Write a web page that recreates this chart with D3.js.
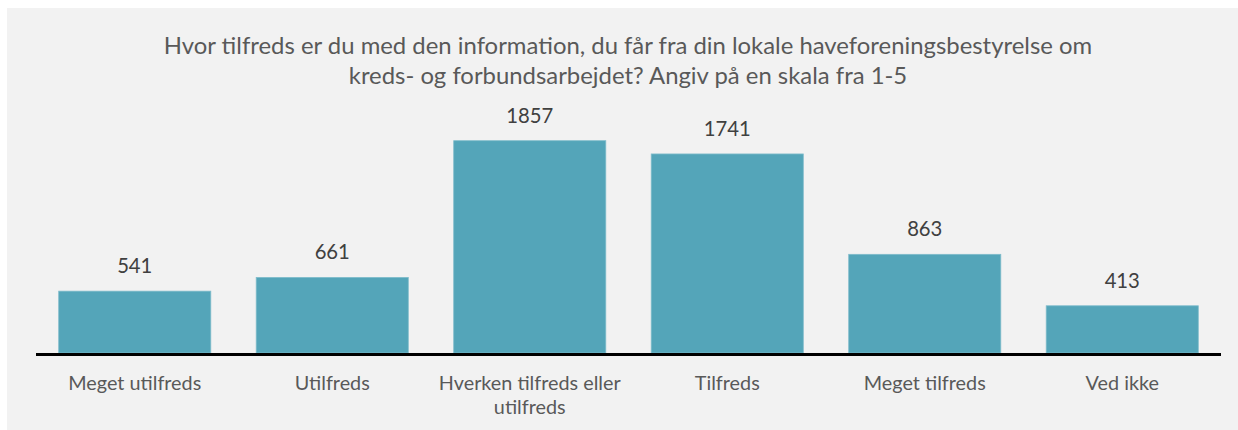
<!DOCTYPE html>
<html>
<head>
<meta charset="utf-8">
<script src="https://cdn.jsdelivr.net/npm/d3@7"></script>
<style>
  html, body { margin: 0; padding: 0; background: #ffffff; }
  svg { display: block; }
  text { font-family: Lato, "Open Sans", "DejaVu Sans", sans-serif; }
</style>
</head>
<body>
<svg id="chart" width="1238" height="430"></svg>
<script>
const categories = ["Meget utilfreds", "Utilfreds", "Hverken tilfreds eller utilfreds", "Tilfreds", "Meget tilfreds", "Ved ikke"];
const categoryLines = [["Meget utilfreds"], ["Utilfreds"], ["Hverken tilfreds eller", "utilfreds"], ["Tilfreds"], ["Meget tilfreds"], ["Ved ikke"]];
const values = [541, 661, 1857, 1741, 863, 413];
const titleLines = ["Hvor tilfreds er du med den information, du får fra din lokale haveforeningsbestyrelse om",
                    "kreds- og forbundsarbejdet? Angiv på en skala fra 1-5"];

const W = 1238, H = 430;
const svg = d3.select("#chart");

// panel background
svg.append("rect").attr("x", 7).attr("y", 8).attr("width", W - 7).attr("height", H - 8).attr("fill", "#f2f2f2");

const plot = { left: 36, right: 1221, baseline: 353 };

const x = d3.scaleBand().domain(categories).range([plot.left, plot.right]).paddingInner(0.23).paddingOuter(0.115);
const y = d3.scaleLinear().domain([0, 1857]).range([plot.baseline, 140.7]);

// fit helper: scale font-size so that a reference text has target width
function fitSize(sample, baseSize, targetWidth) {
  const t = svg.append("text").attr("font-size", baseSize).text(sample);
  const w = t.node().getComputedTextLength();
  t.remove();
  return baseSize * targetWidth / w;
}

const titleSize = fitSize(titleLines[0], 20, 929);
const valueSize = fitSize("1857", 20, 47);
const catSize = fitSize("Meget utilfreds", 18, 133);

// title
const title = svg.append("text").attr("text-anchor", "middle").attr("fill", "#595959").attr("font-size", titleSize);
titleLines.forEach((l, i) => {
  title.append("tspan").attr("x", 628).attr("y", 53.5 + i * 30.5).text(l);
});

// bars
svg.append("g").selectAll("rect").data(values).join("rect")
  .attr("x", (d, i) => x(categories[i]))
  .attr("y", d => y(d))
  .attr("width", x.bandwidth())
  .attr("height", d => y(0) - y(d))
  .attr("fill", "#54a5b9")
  .attr("stroke", "#7fbccb")
  .attr("stroke-width", 0.8);

// value labels
svg.append("g").selectAll("text").data(values).join("text")
  .attr("x", (d, i) => x(categories[i]) + x.bandwidth() / 2)
  .attr("y", d => y(d) - 18)
  .attr("text-anchor", "middle")
  .attr("fill", "#404040")
  .attr("font-size", valueSize)
  .text(d => d);

// axis
const axis = d3.axisBottom(x).tickSize(0).tickFormat("");
const ag = svg.append("g").attr("transform", `translate(0,${plot.baseline + 1.5})`).call(axis);
ag.select(".domain").attr("stroke", "#000").attr("stroke-width", 3).attr("d", `M${plot.left},0H${plot.right}`);

// category labels
const cl = svg.append("g").selectAll("text").data(categories).join("text")
  .attr("text-anchor", "middle")
  .attr("fill", "#595959")
  .attr("font-size", catSize);
cl.each(function(c, i) {
  const t = d3.select(this);
  categoryLines[i].forEach((l, j) => {
    t.append("tspan").attr("x", x(c) + x.bandwidth() / 2).attr("y", 389.5 + j * 24.5).text(l);
  });
});
</script>
</body>
</html>
